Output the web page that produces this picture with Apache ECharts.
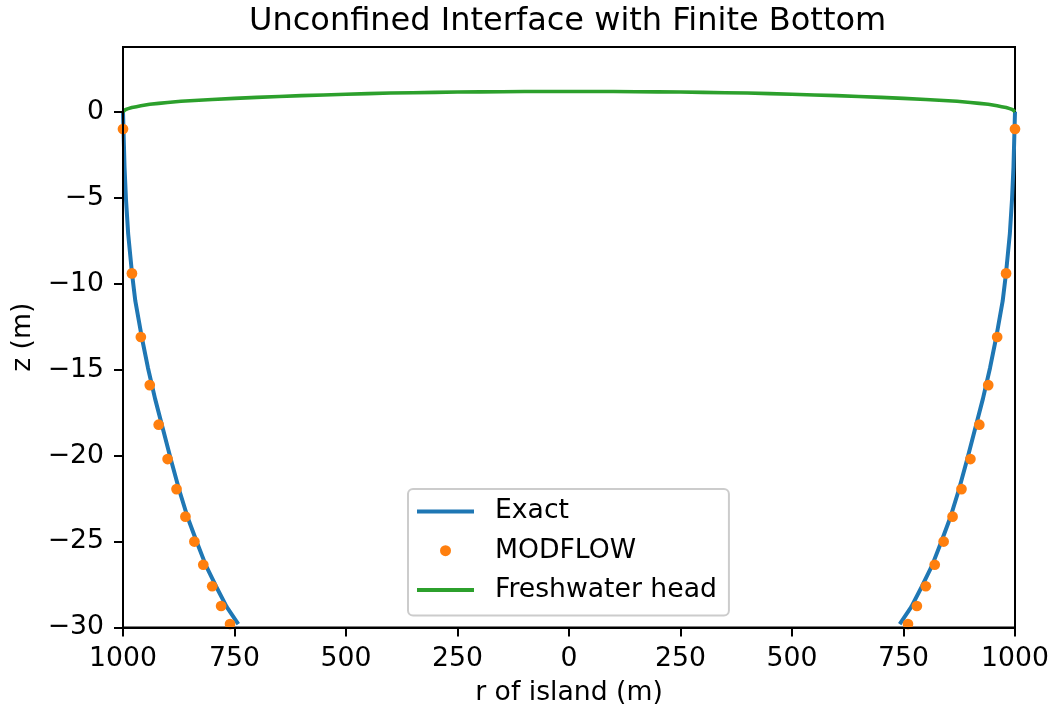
<!DOCTYPE html>
<html>
<head>
<meta charset="utf-8">
<script src="https://cdn.jsdelivr.net/npm/echarts@6/dist/echarts.min.js"></script>
<style>
  html, body { margin: 0; padding: 0; background: #fff; }
  #chart { width: 1053px; height: 713px; }
</style>
</head>
<body>
<div id="chart"></div>
<script>
// Exact interface position on the left flank of the island (r < 0); the right flank is its mirror
const exactR = [-1000, -996.6, -993.3, -988.4, -979.8, -972.4, -958, -944, -928, -910, -893, -874, -855, -835, -814, -791.5, -767.5, -741.5];
const exactZ = [0, -3.2, -5.1, -7.1, -9.4, -11.0, -13.1, -14.9, -16.7, -18.5, -20.2, -22.0, -23.6, -25.0, -26.4, -27.6, -28.8, -29.8];

// MODFLOW interface elevations at the cells of the left flank (mirrored on the right)
const modflowR = [-1000, -980, -960, -940, -920, -900, -880, -860, -840, -820, -800, -780, -760];
const modflowZ = [-1.0, -9.4, -13.1, -15.9, -18.2, -20.2, -21.95, -23.55, -25.0, -26.35, -27.6, -28.75, -29.8];

// Freshwater head from the coast to the island centre (symmetric about r = 0)
const headR = [-1000, -995, -990, -980, -970, -960, -940, -920, -900, -870, -840, -800, -750, -700, -650, -600, -550, -500, -450, -400, -350, -300, -250, -200, -150, -100, -50, 0];
const headZ = [0, 0.12, 0.17, 0.25, 0.30, 0.35, 0.44, 0.49, 0.54, 0.61, 0.66, 0.72, 0.78, 0.84, 0.89, 0.94, 0.98, 1.02, 1.06, 1.09, 1.11, 1.13, 1.15, 1.16, 1.17, 1.18, 1.18, 1.18];

// Axis extents and ticks
const xMin = -1000, xMax = 1000, xStep = 250;
const yMin = -30, yMax = 3.77, yStep = 5;

const FONT = 'DejaVu Sans';
const FS = 26.67;
const BLUE = '#1f77b4', ORANGE = '#ff7f0e', GREEN = '#2ca02c';

const pairs = (xs, ys) => xs.map((x, i) => [x, ys[i]]);
const mirror = (xs, ys) => xs.map((x, i) => [-x, ys[i]]);

const exactLeft = pairs(exactR, exactZ);
const exactRight = mirror(exactR, exactZ);
const modflowPts = pairs(modflowR, modflowZ).concat(mirror(modflowR, modflowZ));
const headLeft = pairs(headR, headZ);
const headRight = mirror(headR, headZ).reverse().slice(1);
const headPts = headLeft.concat(headRight);

const minus = v => String(v).replace('-', '\u2212');
const lineIcon = 'path://M0,0 L57,0 L57,4 L0,4 Z';

const chart = echarts.init(document.getElementById('chart'), null, { renderer: 'canvas' });

chart.setOption({
  animation: false,
  backgroundColor: '#fff',
  title: {
    text: 'Unconfined Interface with Finite Bottom',
    left: 249,
    top: 6,
    padding: 0,
    textStyle: { fontFamily: FONT, fontSize: 32, fontWeight: 'normal', color: '#000' }
  },
  legend: {
    orient: 'vertical',
    left: 408,
    top: 489,
    padding: [9, 12, 12, 9],
    itemGap: 12.2,
    itemWidth: 57,
    itemHeight: 11,
    backgroundColor: 'rgba(255,255,255,0.8)',
    borderColor: '#cccccc',
    borderWidth: 2,
    borderRadius: 5,
    textStyle: { fontFamily: FONT, fontSize: FS, color: '#000', padding: [0, 0, 0, 16] },
    data: [
      { name: 'Exact', icon: lineIcon, itemStyle: { color: BLUE } },
      { name: 'MODFLOW', icon: 'circle', itemStyle: { color: ORANGE } },
      { name: 'Freshwater head', icon: lineIcon, itemStyle: { color: GREEN } }
    ]
  },
  grid: {
    left: 123,
    top: 47,
    width: 892,
    height: 580.5,
    show: true,
    borderColor: '#000',
    borderWidth: 2,
    backgroundColor: 'transparent',
    outerBoundsMode: 'none',
    containLabel: false
  },
  xAxis: {
    type: 'value',
    min: xMin,
    max: xMax,
    interval: xStep,
    z: 5,
    name: 'r of island (m)',
    nameLocation: 'middle',
    nameGap: 52,
    nameTextStyle: { fontFamily: FONT, fontSize: FS, color: '#000' },
    axisLine: { show: true, onZero: false, lineStyle: { color: '#000', width: 2 } },
    axisTick: { show: true, length: 9, lineStyle: { color: '#000', width: 2 } },
    axisLabel: {
      margin: 18,
      fontFamily: FONT,
      fontSize: FS,
      color: '#000',
      formatter: v => String(Math.abs(v))
    },
    splitLine: { show: false }
  },
  yAxis: {
    type: 'value',
    min: yMin,
    max: yMax,
    interval: yStep,
    z: 5,
    name: 'z (m)',
    nameLocation: 'middle',
    nameRotate: 90,
    nameGap: 82,
    nameTextStyle: { fontFamily: FONT, fontSize: FS, color: '#000' },
    axisLine: { show: true, onZero: false, lineStyle: { color: '#000', width: 2 } },
    axisTick: { show: true, length: 9, lineStyle: { color: '#000', width: 2 } },
    axisLabel: {
      margin: 19,
      fontFamily: FONT,
      fontSize: FS,
      color: '#000',
      showMaxLabel: false,
      formatter: v => minus(v)
    },
    splitLine: { show: false }
  },
  series: [
    {
      name: 'Exact',
      type: 'line',
      data: exactLeft,
      symbol: 'none',
      smooth: false,
      lineStyle: { color: BLUE, width: 4 },
      itemStyle: { color: BLUE },
      z: 2
    },
    {
      name: 'Exact',
      type: 'line',
      data: exactRight,
      symbol: 'none',
      smooth: false,
      lineStyle: { color: BLUE, width: 4 },
      itemStyle: { color: BLUE },
      z: 2
    },
    {
      name: 'MODFLOW',
      type: 'scatter',
      data: modflowPts,
      symbol: 'circle',
      symbolSize: 10.7,
      itemStyle: { color: ORANGE, opacity: 1 },
      z: 3
    },
    {
      name: 'Freshwater head',
      type: 'line',
      data: headPts,
      symbol: 'none',
      smooth: false,
      lineStyle: { color: GREEN, width: 3.6 },
      itemStyle: { color: GREEN },
      z: 2
    }
  ]
});
</script>
</body>
</html>
